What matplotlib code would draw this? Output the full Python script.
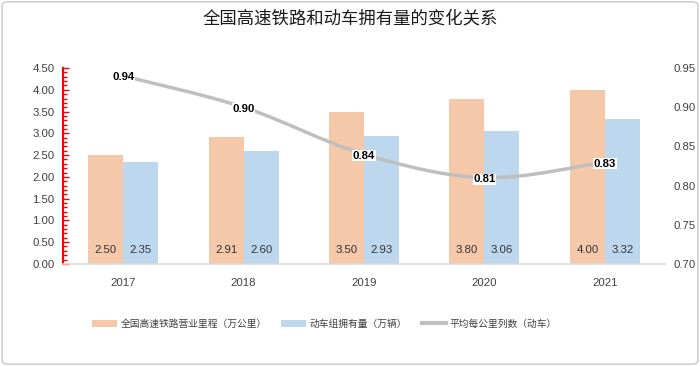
import matplotlib
matplotlib.use("Agg")
import matplotlib.pyplot as plt
import numpy as np
from matplotlib.path import Path
from matplotlib.patches import PathPatch, FancyBboxPatch, Patch
from matplotlib.lines import Line2D
from matplotlib.ticker import MultipleLocator

plt.rcParams['font.family'] = ['Liberation Sans', 'Noto Sans CJK SC', 'DejaVu Sans']

years = ["2017", "2018", "2019", "2020", "2021"]
mileage = [2.50, 2.91, 3.50, 3.80, 4.00]
emu = [2.35, 2.60, 2.93, 3.06, 3.32]
ratio = [0.94, 0.90, 0.84, 0.81, 0.83]

title = "全国高速铁路和动车拥有量的变化关系"
leg_labels = ["全国高速铁路营业里程（万公里）", "动车组拥有量（万辆）", "平均每公里列数（动车）"]

c_orange = "#F6C8AA"
c_blue = "#BDD7EE"
c_gray = "#BFBFBF"
txt = "#404040"
fs = 8.2

fig = plt.figure(figsize=(7.0, 3.66), dpi=100)
fig.patches.append(FancyBboxPatch((0.003, 0.005), 0.994, 0.99, boxstyle="round,pad=0,rounding_size=0.01",
                                  transform=fig.transFigure, fill=False, edgecolor="#d0d0d0", linewidth=1.2))

ax = fig.add_axes([0.09, 0.279, 0.86, 0.535])
x = np.arange(len(years))
w = 0.29
ax.bar(x - w / 2, mileage, w, color=c_orange, zorder=2)
ax.bar(x + w / 2, emu, w, color=c_blue, zorder=2)
for xi, v in zip(x, mileage):
    ax.text(xi - w / 2, 0.2, f"{v:.2f}", ha="center", va="bottom", fontsize=fs, color="#333333")
for xi, v in zip(x, emu):
    ax.text(xi + w / 2, 0.2, f"{v:.2f}", ha="center", va="bottom", fontsize=fs, color="#333333")

ax.set_xlim(-0.5, len(years) - 0.5)
ax.set_ylim(0, 4.5)
ax.yaxis.set_minor_locator(MultipleLocator(0.1))
ax.set_yticks(np.arange(0, 4.51, 0.5))
ax.set_yticklabels([f"{t:.2f}" for t in np.arange(0, 4.51, 0.5)])
ax.set_xticks(x)
ax.set_xticklabels(years)
ax.tick_params(axis="y", which="major", direction="in", length=4, color="red", width=1, labelsize=fs, labelcolor=txt, pad=6)
ax.tick_params(axis="y", which="minor", direction="in", length=3, color="red", width=1)
ax.tick_params(axis="x", length=0, labelsize=fs, labelcolor=txt, pad=10)
for s in ["top", "right"]:
    ax.spines[s].set_visible(False)
ax.spines["left"].set_color("red")
ax.spines["left"].set_linewidth(1.5)
ax.spines["bottom"].set_color("#d9d9d9")
ax.spines["bottom"].set_linewidth(1.2)

ax2 = ax.twinx()
ax2.set_ylim(0.70, 0.95)
ax2.set_yticks(np.arange(0.70, 0.951, 0.05))
ax2.set_yticklabels([f"{t:.2f}" for t in np.arange(0.70, 0.951, 0.05)])
ax2.tick_params(axis="y", length=0, labelsize=fs, labelcolor=txt, pad=6)
for s in ax2.spines.values():
    s.set_visible(False)

# smooth curve through the data points (Catmull-Rom -> cubic Bezier)
pts = np.column_stack([x, ratio]).astype(float)
verts = [tuple(pts[0])]
codes = [Path.MOVETO]
n = len(pts)
for i in range(n - 1):
    p0 = pts[i - 1] if i > 0 else pts[i]
    p1 = pts[i]
    p2 = pts[i + 1]
    p3 = pts[i + 2] if i + 2 < n else pts[i + 1]
    c1 = p1 + (p2 - p0) / 6.0
    c2 = p2 - (p3 - p1) / 6.0
    verts += [tuple(c1), tuple(c2), tuple(p2)]
    codes += [Path.CURVE4] * 3
ax2.add_patch(PathPatch(Path(verts, codes), fill=False, edgecolor=c_gray, linewidth=2.5, zorder=3))
for xi, v in zip(x, ratio):
    ax2.text(xi, v - 0.002, f"{v:.2f}", ha="center", va="center", fontsize=fs, fontweight="bold",
             color="black", zorder=4,
             bbox=dict(facecolor="white", edgecolor="none", pad=0.5))

fig.text(0.5, 0.951, title, ha="center", va="center", fontsize=12.5, color="#1a1a1a",
         family=['Noto Sans CJK SC', 'DejaVu Sans'])

handles = [Patch(facecolor=c_orange, edgecolor="none"),
           Patch(facecolor=c_blue, edgecolor="none"),
           Line2D([0], [0], color=c_gray, linewidth=3)]
fig.legend(handles, leg_labels, loc="center", bbox_to_anchor=(0.464, 0.115), ncol=3, frameon=False,
           prop={'family': ['Noto Sans CJK SC', 'DejaVu Sans'], 'size': 7.0},
           handlelength=2.5, handleheight=0.8, columnspacing=1.5, handletextpad=0.4,
           labelcolor="#404040")

fig.savefig("out.png", dpi=100, facecolor="white")
